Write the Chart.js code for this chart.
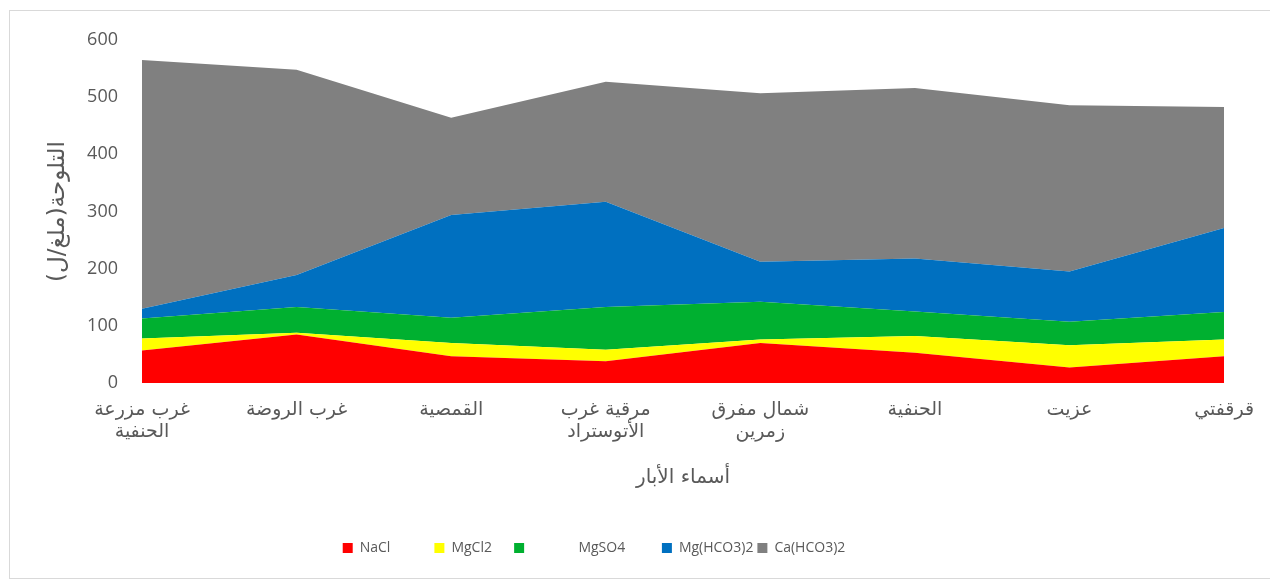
<!DOCTYPE html>
<html>
<head>
<meta charset="utf-8">
<script src="https://cdn.jsdelivr.net/npm/chart.js@4"></script>
<style>
  html, body { margin: 0; padding: 0; background: #fff; }
  #wrap { position: absolute; left: 0; top: 0; width: 1270px; height: 581px; }
  #frame { position: absolute; left: 9px; top: 10px; width: 1270px; height: 567px; border: 1px solid #d9d9d9; }
</style>
</head>
<body>
<div id="frame"></div>
<div id="wrap"><canvas id="myChart" width="1270" height="581"></canvas></div>
<script>
// data
var wells = [['غرب مزرعة', 'الحنفية'], 'غرب الروضة', 'القمصية', ['مرقية غرب', 'الأتوستراد'], ['شمال مفرق', 'زمرين'], 'الحنفية', 'عزيت', 'قرقفتي'];
var nacl = [57, 85, 47, 38, 70, 53, 27, 47];
var mgcl2 = [21, 3, 23, 20, 6, 29, 39, 29];
var mgso4 = [35, 45, 44, 75, 66, 43, 41, 48];
var mghco3 = [17, 56, 180, 184, 70, 93, 88, 147];
var cahco3 = [435, 359, 170, 210, 295, 298, 291, 212];
var yTicks = [0, 100, 200, 300, 400, 500, 600];

var latin = "'Open Sans', 'DejaVu Sans', sans-serif";
var arabic = "'DejaVu Sans', 'Noto Sans', sans-serif";
var grey = '#595959';

function area(label, values, color, fill) {
  return {
    label: label,
    data: values,
    backgroundColor: color,
    borderColor: color,
    borderWidth: 0,
    pointRadius: 0,
    fill: fill,
    tension: 0
  };
}

// legend spacing in the picture is uneven, so labels carry spaces
var legendNames = ['NaCl           ', 'MgCl2     ', '             MgSO4         ', 'Mg(HCO3)2', 'Ca(HCO3)2'];

// nudge the legend left like in the picture
var shiftLegend = {
  id: 'shiftLegend',
  afterLayout: function(chart) {
    chart.legend.left -= 29;
    chart.legend.right -= 29;
  }
};

var ctx = document.getElementById('myChart');
new Chart(ctx, {
  type: 'line',
  data: {
    labels: wells,
    datasets: [
      area(legendNames[0], nacl, '#ff0000', 'origin'),
      area(legendNames[1], mgcl2, '#ffff00', '-1'),
      area(legendNames[2], mgso4, '#00b030', '-1'),
      area(legendNames[3], mghco3, '#0070c0', '-1'),
      area(legendNames[4], cahco3, '#808080', '-1')
    ]
  },
  options: {
    responsive: false,
    animation: false,
    layout: { padding: { left: 20, top: 40, right: 44, bottom: 16 } },
    plugins: {
      tooltip: { enabled: false },
      legend: {
        position: 'bottom',
        labels: {
          boxWidth: 10,
          boxHeight: 10,
          padding: 4,
          color: grey,
          font: { family: latin, size: 14 }
        }
      }
    },
    scales: {
      x: {
        offset: false,
        grid: { display: false, drawTicks: false },
        border: { display: false },
        ticks: {
          padding: 16,
          maxRotation: 0,
          autoSkip: false,
          color: grey,
          font: { family: arabic, size: 19, lineHeight: 1.15 }
        },
        title: {
          display: true,
          text: 'أسماء الأبار',
          color: grey,
          font: { family: arabic, size: 20 },
          padding: { top: 0, bottom: 47 }
        },
        afterFit: function(scale) { scale.height = 154; }
      },
      y: {
        stacked: true,
        min: 0,
        max: 600,
        grid: { display: false, drawTicks: false },
        border: { display: false },
        afterBuildTicks: function(scale) {
          scale.ticks = yTicks.map(function(v) { return { value: v }; });
        },
        ticks: {
          padding: 24,
          color: grey,
          font: { family: latin, size: 18 }
        },
        title: {
          display: true,
          text: '\u200Fالتلوحة(ملغ/ل)\u200F',
          color: grey,
          font: { family: arabic, size: 23 },
          padding: { top: 24, bottom: 0 }
        },
        afterFit: function(scale) { scale.width = 122; }
      }
    }
  },
  plugins: [shiftLegend]
});
</script>
</body>
</html>
